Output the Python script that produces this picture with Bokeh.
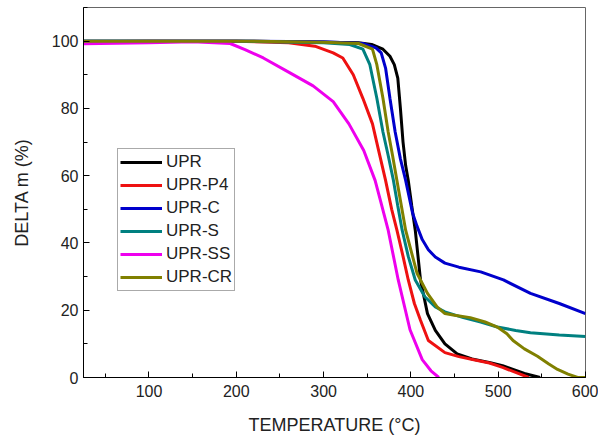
from bokeh.plotting import figure
from bokeh.models import SingleIntervalTicker, Range1d, Legend, LegendItem
from bokeh.embed import file_html
from bokeh.resources import INLINE

# ---- data ----
upr_t = [25, 100, 200, 300, 340, 355, 368, 376, 381, 385, 388, 391, 394, 397, 401, 405, 411, 419, 428, 439, 453, 470, 491, 505, 517, 530, 548]
upr_v = [100, 100, 100, 99.7, 99.5, 99, 97.6, 95.5, 93, 89, 80, 70, 63, 58.6, 51, 43.8, 29, 19, 14, 10, 7, 5.5, 4.4, 3.5, 2.4, 1.2, 0]

p4_t = [25, 100, 200, 260, 290, 311, 322, 334, 345, 356, 363, 371, 378, 384, 391, 397, 404, 411, 420, 439, 455, 472, 490, 505, 520, 535]
p4_v = [99.8, 100, 100, 99.5, 98.5, 96.5, 95, 90, 83, 75.4, 67.5, 58.6, 50, 43.8, 36, 29, 22, 17, 11, 7.4, 6.2, 5.3, 4.3, 3.0, 1.5, 0]

c_t = [25, 100, 200, 300, 345, 360, 366, 371, 376, 382, 388, 394, 402, 407, 413, 420, 428, 439, 455, 480, 506, 537, 570, 600]
c_v = [100, 100, 100, 99.8, 99.3, 98, 96.5, 92, 83, 73, 65, 58.6, 48.8, 45, 41, 38, 35.8, 34, 32.8, 31.4, 29, 25, 22, 19]

s_t = [25, 100, 200, 300, 330, 345, 353, 361, 368, 374, 380, 385, 390, 397, 405, 416, 428, 439, 460, 480, 499, 520, 537, 570, 600]
s_v = [100, 100, 100, 99.5, 99, 97.6, 93, 83, 73, 66, 58.6, 51, 43.8, 36, 29, 24, 21, 19.5, 17.8, 16.5, 15, 14, 13.3, 12.6, 12.2]

ss_t = [25, 100, 150, 193, 210, 231, 262, 288, 311, 329, 346, 359, 365, 374, 385.5, 399, 413, 423, 432]
ss_v = [99.2, 99.5, 99.8, 99.3, 97.5, 95, 90.5, 86.7, 82, 75.4, 67.5, 58.6, 52.7, 43.8, 29, 14.2, 5.3, 2, 0]

cr_t = [25, 100, 200, 300, 340, 356, 361, 368, 374, 379, 384, 394, 407, 419, 430, 439, 450, 468, 485, 499, 510, 517, 530, 545, 558, 568, 580, 591, 600]
cr_v = [100, 100, 100, 99.7, 99.3, 97.6, 93, 83, 73, 66, 58.6, 43.8, 31, 25, 21, 19, 18.5, 17.8, 16.5, 15, 13, 11, 8.5, 6.3, 4, 2.4, 1, 0, 0]

names = ["UPR", "UPR-P4", "UPR-C", "UPR-S", "UPR-SS", "UPR-CR"]
colors = ["#000000", "#ee1111", "#0000cc", "#008080", "#ee00ee", "#808000"]
series = [(upr_t, upr_v), (p4_t, p4_v), (c_t, c_v), (s_t, s_v), (ss_t, ss_v), (cr_t, cr_v)]

FONT = "Liberation Sans"

p = figure(width=598, height=437, output_backend="svg", toolbar_location=None,
           x_range=Range1d(25, 600), y_range=Range1d(0, 110),
           min_border_left=83, min_border_right=13, min_border_top=7, min_border_bottom=59)
p.background_fill_color = "white"
p.border_fill_color = "white"
p.outline_line_color = "#666666"
p.outline_line_width = 1
p.grid.visible = False

items = []
for name, col, (t, v) in zip(names, colors, series):
    r = p.line(t, v, line_color=col, line_width=3)
    items.append(LegendItem(label=name, renderers=[r]))

p.xaxis.ticker = SingleIntervalTicker(interval=100, num_minor_ticks=2)
p.yaxis.ticker = SingleIntervalTicker(interval=20, num_minor_ticks=2)
for ax in (p.xaxis[0], p.yaxis[0]):
    ax.major_tick_in = 6
    ax.major_tick_out = 0
    ax.minor_tick_in = 4
    ax.minor_tick_out = 0
    ax.axis_line_color = "black"
    ax.major_tick_line_color = "black"
    ax.minor_tick_line_color = "black"
    ax.major_label_text_font = FONT
    ax.major_label_text_font_size = "16px"
    ax.major_label_text_color = "#222222"
    ax.axis_label_text_font = FONT
    ax.axis_label_text_font_size = "18px"
    ax.axis_label_text_font_style = "normal"
    ax.axis_label_text_color = "#222222"

p.xaxis.axis_label = "TEMPERATURE (°C)"
p.yaxis.axis_label = "DELTA m (%)"
p.xaxis.major_label_standoff = 7
p.yaxis.major_label_standoff = 5
p.xaxis.axis_label_standoff = 15
p.yaxis.axis_label_standoff = 17

legend = Legend(items=items, location=(34, 86))
legend.label_text_font = FONT
legend.label_text_font_size = "17px"
legend.label_text_color = "#222222"
legend.glyph_width = 42
legend.glyph_height = 22
legend.label_height = 22
legend.label_standoff = 4
legend.spacing = 1
legend.padding = 2
legend.margin = 0
legend.border_line_color = "#555555"
legend.border_line_width = 1
legend.background_fill_color = "white"
legend.background_fill_alpha = 1.0
p.add_layout(legend, "center")

open("out.html", "w").write(file_html(p, INLINE))
